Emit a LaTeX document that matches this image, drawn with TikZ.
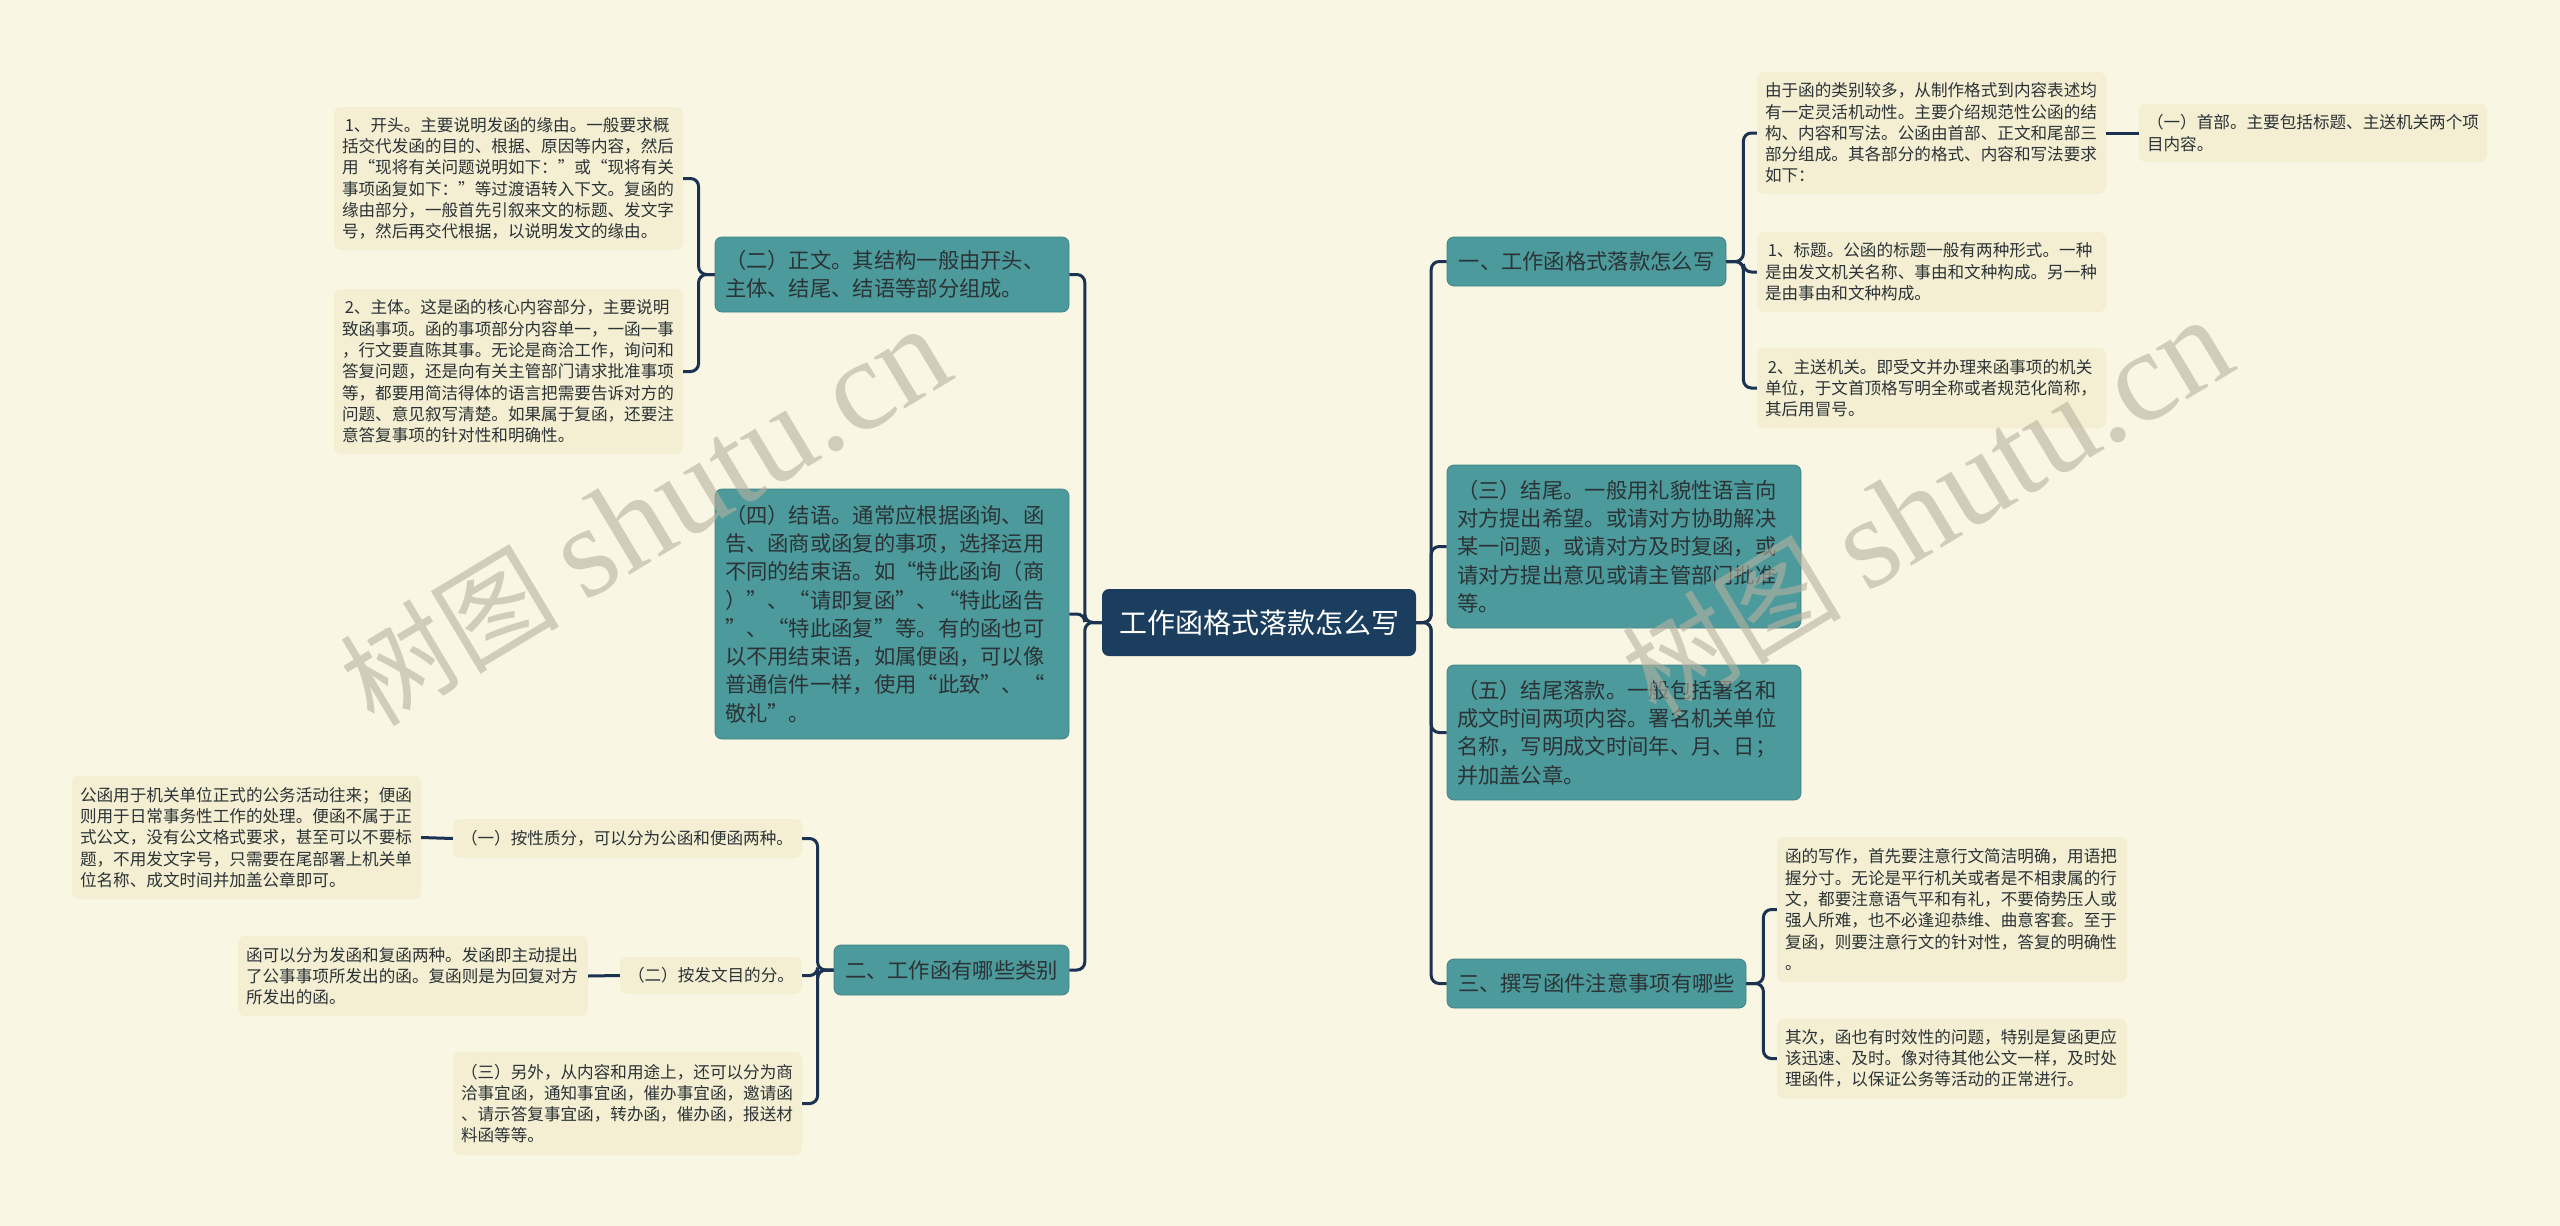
\documentclass[tikz,border=0pt]{standalone}
\usepackage{fontspec}
\newfontfamily\cjk{Noto Sans CJK SC}
\newfontfamily\wmlatin{Liberation Serif}

\definecolor{paper}{HTML}{FAF6E4}
\definecolor{rootblue}{HTML}{1B3E5E}
\definecolor{tealfill}{HTML}{4C9A9B}
\definecolor{leaffill}{HTML}{F4EED2}
\definecolor{linkblue}{HTML}{1B3350}
\definecolor{darktext}{HTML}{2B3336}
\definecolor{wmgrey}{HTML}{B8B2A0}

\tikzstyle{rootblock} = [rectangle, rounded corners=7pt, fill=rootblue, text=white, font=\cjk\fontsize{28}{34}\selectfont, inner sep=0pt]
\tikzstyle{block} = [rectangle, rounded corners=7pt, fill=tealfill, draw=tealfill!85!black, line width=0.8pt, text=darktext, font=\cjk\fontsize{21.3}{28.3}\selectfont, align=left, inner xsep=10pt, inner ysep=0pt]
\tikzstyle{note} = [rectangle, rounded corners=7pt, fill=leaffill, text=darktext, font=\cjk\fontsize{16.6}{21.3}\selectfont, align=left, inner xsep=8pt, inner ysep=0pt]
\tikzstyle{link} = [draw=linkblue, line width=3pt, rounded corners=8pt]
\tikzstyle{watermark} = [text=wmgrey, text opacity=0.6, rotate=31, inner sep=0pt]

\begin{document}
\begin{tikzpicture}[x=1pt, y=-1pt]
    \useasboundingbox (0,0) rectangle (2560,1226);
    \fill [paper] (0,0) rectangle (2560,1226);

    \node (root) [rootblock, minimum width=314pt, minimum height=67pt] at (1259,622.5) {工作函格式落款怎么写};

    \node (a) [block, minimum width=279pt, minimum height=49pt] at (1586.5,261.5) {一、工作函格式落款怎么写};
    \node (b) [block, text width=334pt, minimum height=163pt] at (1624,546.5) {（三）结尾。一般用礼貌性语言向\\对方提出希望。或请对方协助解决\\某一问题，或请对方及时复函，或\\请对方提出意见或请主管部门批准\\等。};
    \node (c) [block, text width=334pt, minimum height=135pt] at (1624,732.5) {（五）结尾落款。一般包括署名和\\成文时间两项内容。署名机关单位\\名称，写明成文时间年、月、日；\\并加盖公章。};
    \node (d) [block, minimum width=299pt, minimum height=49pt] at (1596.5,983.5) {三、撰写函件注意事项有哪些};

    \node (e) [block, text width=334pt, minimum height=75pt] at (892,274.5) {（二）正文。其结构一般由开头、\\主体、结尾、结语等部分组成。};
    \node (f) [block, text width=334pt, minimum height=250pt] at (892,614) {（四）结语。通常应根据函询、函\\告、函商或函复的事项，选择运用\\不同的结束语。如“特此函询（商\\）”、“请即复函”、“特此函告\\”、“特此函复”等。有的函也可\\以不用结束语，如属便函，可以像\\普通信件一样，使用“此致”、“\\敬礼”。};
    \node (g) [block, minimum width=235pt, minimum height=50pt] at (951.5,970) {二、工作函有哪些类别};

    \node (a1) [note, text width=333pt, minimum height=122pt] at (1931.5,133) {由于函的类别较多，从制作格式到内容表述均\\有一定灵活机动性。主要介绍规范性公函的结\\构、内容和写法。公函由首部、正文和尾部三\\部分组成。其各部分的格式、内容和写法要求\\如下：};
    \node (a1x) [note, text width=332pt, minimum height=58pt] at (2313,133) {（一）首部。主要包括标题、主送机关两个项\\目内容。};
    \node (a2) [note, text width=333pt, minimum height=80pt] at (1931.5,272) {\,1、标题。公函的标题一般有两种形式。一种\\是由发文机关名称、事由和文种构成。另一种\\是由事由和文种构成。};
    \node (a3) [note, text width=333pt, minimum height=80pt] at (1931.5,388) {\,2、主送机关。即受文并办理来函事项的机关\\单位，于文首顶格写明全称或者规范化简称，\\其后用冒号。};
    \node (d1) [note, text width=334pt, minimum height=145pt] at (1952,909.5) {函的写作，首先要注意行文简洁明确，用语把\\握分寸。无论是平行机关或者是不相隶属的行\\文，都要注意语气平和有礼，不要倚势压人或\\强人所难，也不必逢迎恭维、曲意客套。至于\\复函，则要注意行文的针对性，答复的明确性\\。};
    \node (d2) [note, text width=334pt, minimum height=80pt] at (1952,1058.5) {其次，函也有时效性的问题，特别是复函更应\\该迅速、及时。像对待其他公文一样，及时处\\理函件，以保证公务等活动的正常进行。};

    \node (e1) [note, text width=333pt, minimum height=143pt] at (508.5,178.5) {\,1、开头。主要说明发函的缘由。一般要求概\\括交代发函的目的、根据、原因等内容，然后\\用“现将有关问题说明如下：”或“现将有关\\事项函复如下：”等过渡语转入下文。复函的\\缘由部分，一般首先引叙来文的标题、发文字\\号，然后再交代根据，以说明发文的缘由。};
    \node (e2) [note, text width=333pt, minimum height=165pt] at (508.5,371.5) {\,2、主体。这是函的核心内容部分，主要说明\\致函事项。函的事项部分内容单一，一函一事\\，行文要直陈其事。无论是商洽工作，询问和\\答复问题，还是向有关主管部门请求批准事项\\等，都要用简洁得体的语言把需要告诉对方的\\问题、意见叙写清楚。如果属于复函，还要注\\意答复事项的针对性和明确性。};
    \node (g1) [note, text width=333pt, minimum height=39pt] at (627.5,838.5) {（一）按性质分，可以分为公函和便函两种。};
    \node (g1x) [note, text width=333pt, minimum height=123pt] at (246.5,837.5) {公函用于机关单位正式的公务活动往来；便函\\则用于日常事务性工作的处理。便函不属于正\\式公文，没有公文格式要求，甚至可以不要标\\题，不用发文字号，只需要在尾部署上机关单\\位名称、成文时间并加盖公章即可。};
    \node (g2) [note, text width=166pt, minimum height=37pt] at (711,975.5) {（二）按发文目的分。};
    \node (g2x) [note, text width=334pt, minimum height=80pt] at (413,976) {函可以分为发函和复函两种。发函即主动提出\\了公事事项所发出的函。复函则是为回复对方\\所发出的函。};
    \node (g3) [note, text width=333pt, minimum height=103pt] at (627.5,1103.5) {（三）另外，从内容和用途上，还可以分为商\\洽事宜函，通知事宜函，催办事宜函，邀请函\\、请示答复事宜函，转办函，催办函，报送材\\料函等等。};

    \draw [link] (root.east) -- ++(15,0) |- (a.west);
    \draw [link] (root.east) -- ++(15,0) |- (b.west);
    \draw [link] (root.east) -- ++(15,0) |- (c.west);
    \draw [link] (root.east) -- ++(15,0) |- (d.west);
    \draw [link] (root.west) -- ++(-17,0) |- (e.east);
    \draw [link] (root.west) -- ++(-17,0) |- (f.east);
    \draw [link] (root.west) -- ++(-17,0) |- (g.east);
    \draw [link] (a.east) -- ++(17,0) |- (a1.west);
    \draw [link] (a.east) -- ++(17,0) |- (a2.west);
    \draw [link] (a.east) -- ++(17,0) |- (a3.west);
    \draw [link] (a1.east) -- (a1x.west);
    \draw [link] (d.east) -- ++(17,0) |- (d1.west);
    \draw [link] (d.east) -- ++(17,0) |- (d2.west);
    \draw [link] (e.west) -- ++(-16,0) |- (e1.east);
    \draw [link] (e.west) -- ++(-16,0) |- (e2.east);
    \draw [link] (g.west) -- ++(-16,0) |- (g1.east);
    \draw [link] (g.west) -- ++(-16,0) |- (g2.east);
    \draw [link] (g.west) -- ++(-16,0) |- (g3.east);
    \draw [link] (g1.west) -- (g1x.east);
    \draw [link] (g2.west) -- (g2x.east);

    \node (wmleft) [watermark] at (645,517) {\cjk\fontsize{110}{110}\selectfont 树图 \wmlatin\fontsize{130}{130}\selectfont shutu.cn};
    \node (wmright) [watermark] at (1927,508) {\cjk\fontsize{110}{110}\selectfont 树图 \wmlatin\fontsize{130}{130}\selectfont shutu.cn};
\end{tikzpicture}
\end{document}
